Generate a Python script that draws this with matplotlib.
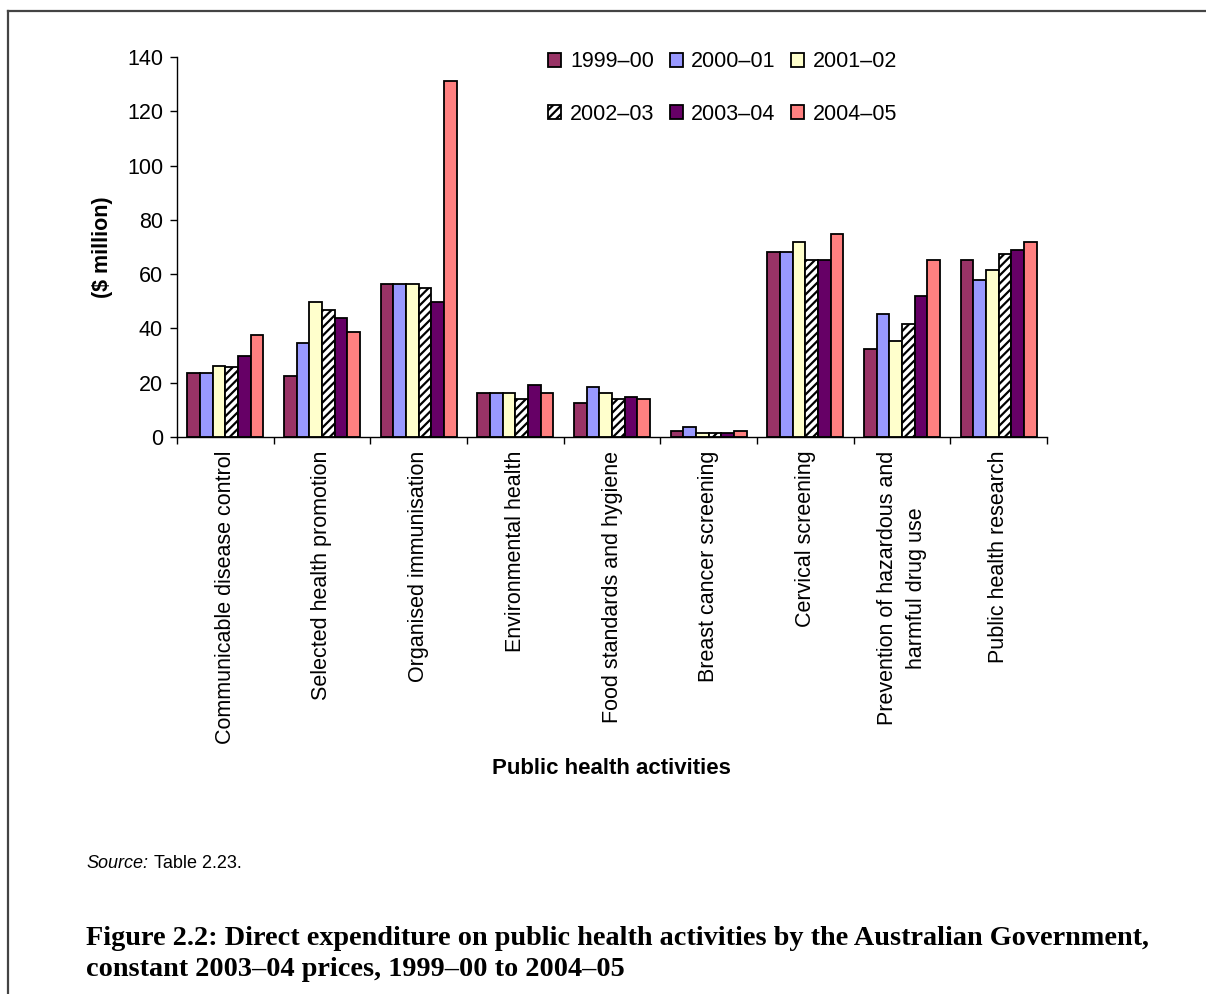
import numpy as np
import matplotlib
matplotlib.use("Agg")
import matplotlib.pyplot as plt
from matplotlib.lines import Line2D

plt.rcParams["font.family"] = ["Liberation Sans", "DejaVu Sans"]
plt.rcParams["hatch.linewidth"] = 1.6

activities = [
    "Communicable disease control",
    "Selected health promotion",
    "Organised immunisation",
    "Environmental health",
    "Food standards and hygiene",
    "Breast cancer screening",
    "Cervical screening",
    "Prevention of hazardous and\nharmful drug use",
    "Public health research",
]
years = ["1999\u201300", "2000\u201301", "2001\u201302", "2002\u201303", "2003\u201304", "2004\u201305"]

# $ million, constant 2003-04 prices
y1999_00 = [23.5, 22.6, 56.3, 16.1, 12.6, 2.2, 68.2, 32.3, 65.3]
y2000_01 = [23.5, 34.5, 56.3, 16.1, 18.3, 3.7, 68.2, 45.5, 58.0]
y2001_02 = [26.3, 49.6, 56.3, 16.1, 16.1, 1.5, 71.9, 35.2, 61.6]
y2002_03 = [25.7, 46.8, 55.0, 13.9, 13.9, 1.5, 65.3, 41.8, 67.5]
y2003_04 = [29.9, 44.0, 49.6, 19.1, 14.7, 1.5, 65.3, 52.1, 69.0]
y2004_05 = [37.5, 38.7, 131.2, 16.1, 13.9, 2.2, 74.8, 65.3, 71.9]

series = [y1999_00, y2000_01, y2001_02, y2002_03, y2003_04, y2004_05]
colors = ["#993366", "#9999FF", "#FFFFCC", "white", "#660066", "#FF8080"]
hatches = [None, None, None, "////", None, None]

fs = 15.5

fig = plt.figure(figsize=(12.06, 9.94), dpi=100)

# page frame
fig.add_artist(Line2D([8 / 1206, 1.0], [1 - 11 / 994] * 2, color="#444444", lw=1.6))
fig.add_artist(Line2D([8 / 1206] * 2, [0, 1 - 11 / 994], color="#444444", lw=1.6))

ax = fig.add_axes([177 / 1206, 1 - 437 / 994, 870 / 1206, 380 / 994])

x = np.arange(len(activities))
w = 0.131
bars = []
for i, vals in enumerate(series):
    b = ax.bar(x - 2.5 * w + i * w, vals, width=w, color=colors[i], edgecolor="black",
               linewidth=1.3, hatch=hatches[i], label=years[i], zorder=2)
    bars.append(b)

ax.set_xlim(-0.5, len(activities) - 0.5)
ax.set_ylim(0, 140)
ax.set_yticks(range(0, 141, 20))
ax.tick_params(axis="y", labelsize=fs, length=5, width=1, pad=5)

ax.set_xticks(np.arange(len(activities) + 1) - 0.5)
ax.set_xticklabels([])
ax.tick_params(axis="x", length=5, width=1, direction="out")
for xi, name in zip(x, activities):
    ax.text(xi, -5, name, rotation=90, ha="center", va="top", fontsize=fs,
            multialignment="center", linespacing=1.45)

for side in ["top", "right"]:
    ax.spines[side].set_visible(False)
ax.spines["left"].set_linewidth(1)
ax.spines["bottom"].set_linewidth(1)

ax.set_ylabel("($ million)", fontsize=fs, fontweight="bold", labelpad=10)
fig.text(611 / 1206, 1 - 768 / 994, "Public health activities", ha="center", va="center",
         fontsize=fs + 0.5, fontweight="bold")

# legend entries run across rows: three per row
order = [0, 3, 1, 4, 2, 5]
ax.legend([bars[i] for i in order], [years[i] for i in order],
          loc="upper left", bbox_to_anchor=(529 / 1206, 1 - 32 / 994),
          bbox_transform=fig.transFigure, ncol=3, frameon=False, fontsize=fs,
          handlelength=0.6, handleheight=0.6, handletextpad=0.4,
          columnspacing=0.72, labelspacing=1.45)

fig.text(86 / 1206, 1 - 864 / 994, "Source:", fontsize=13, style="italic", va="center")
fig.text(154 / 1206, 1 - 864 / 994, "Table 2.23.", fontsize=13, va="center")

fig.text(86 / 1206, 1 - 954 / 994,
         "Figure 2.2: Direct expenditure on public health activities by the Australian Government,\n"
         "constant 2003\u201304 prices, 1999\u201300 to 2004\u201305",
         fontsize=20.3, fontweight="bold", family=["Liberation Serif", "DejaVu Serif"],
         va="center", linespacing=1.3)

fig.savefig("out.png", dpi=100)
